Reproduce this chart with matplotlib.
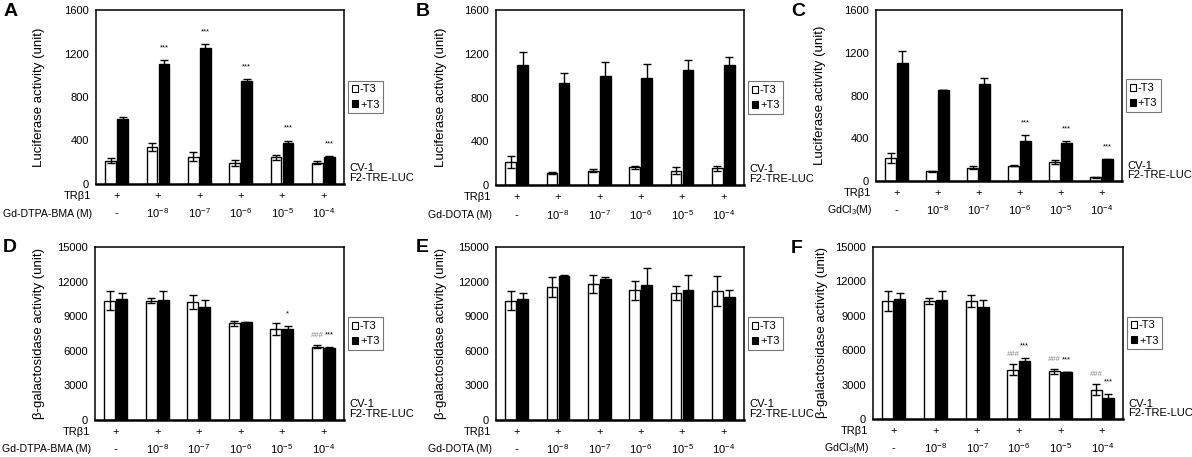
import numpy as np
import matplotlib.pyplot as plt
from matplotlib.patches import Patch

plt.rcParams["font.family"] = ["Liberation Sans", "DejaVu Sans"]
plt.rcParams["mathtext.fontset"] = "custom"
plt.rcParams["mathtext.rm"] = "Liberation Sans"
plt.rcParams["mathtext.it"] = "Liberation Sans:italic"

conc_labels = ["-", "$10^{-8}$", "$10^{-7}$", "$10^{-6}$", "$10^{-5}$", "$10^{-4}$"]
trb1_labels = ["+"] * 6

# luciferase activity (unit), -T3 / +T3, with errors
a_minus = [215, 338, 252, 194, 246, 197]
a_minus_err = [20, 35, 38, 28, 22, 12]
a_plus = [600, 1101, 1252, 948, 375, 252]
a_plus_err = [18, 43, 34, 21, 25, 5]

b_minus = [207, 110, 131, 162, 131, 152]
b_minus_err = [55, 9, 12, 15, 30, 25]
b_plus = [1097, 933, 994, 975, 1052, 1097]
b_plus_err = [116, 91, 134, 128, 94, 70]

c_minus = [219, 91, 125, 144, 178, 34]
c_minus_err = [47, 3, 12, 5, 22, 3]
c_plus = [1100, 850, 912, 375, 356, 203]
c_plus_err = [119, 2, 56, 53, 19, 6]

# beta-galactosidase activity (unit)
d_minus = [10350, 10350, 10240, 8370, 7850, 6350]
d_minus_err = [810, 230, 630, 200, 520, 110]
d_plus = [10530, 10440, 9840, 8480, 7850, 6260]
d_plus_err = [520, 720, 600, 50, 290, 30]

e_minus = [10350, 11540, 11830, 11250, 11020, 11160]
e_minus_err = [810, 860, 780, 840, 580, 1300]
e_plus = [10530, 12520, 12230, 11680, 11250, 10650]
e_plus_err = [490, 30, 140, 1500, 1300, 600]

f_minus = [10320, 10320, 10260, 4300, 4160, 2560]
f_minus_err = [870, 260, 520, 500, 230, 490]
f_plus = [10490, 10410, 9770, 5090, 4100, 1830]
f_plus_err = [490, 730, 640, 230, 30, 350]

# significance marks: (group, bar 0=-T3 / 1=+T3, text)
a_marks = [(1, 1, "***"), (2, 1, "***"), (3, 1, "***"), (4, 1, "***"), (5, 1, "***")]
b_marks = []
c_marks = [(3, 1, "***"), (4, 1, "***"), (5, 1, "***")]
d_marks = [(4, 1, "*"), (5, 0, "###"), (5, 1, "***")]
e_marks = []
f_marks = [(3, 0, "###"), (3, 1, "***"), (4, 0, "###"), (4, 1, "***"),
           (5, 0, "###"), (5, 1, "***")]

W, H = 1192, 457
fig = plt.figure(figsize=(W / 100, H / 100), dpi=100)


def px_axes(l, t, r, b):
    return fig.add_axes([l / W, 1 - b / H, (r - l) / W, (b - t) / H])


def panel(ax, letter, minus, minus_err, plus, plus_err, marks, ymax, yticks,
          ylabel, drug, letter_x, label_x):
    x = np.arange(len(minus))
    bw = 0.26
    off = 0.145
    ekw = dict(ecolor="black", elinewidth=1.0, capsize=3, capthick=1.0)
    ax.bar(x - off, minus, bw, color="white", edgecolor="black", linewidth=1.0,
           yerr=minus_err, error_kw=ekw, zorder=2)
    ax.bar(x + off, plus, bw, color="black", edgecolor="black", linewidth=1.0,
           yerr=plus_err, error_kw=ekw, zorder=2)
    ax.set_xlim(-0.5, 5.5)
    ax.set_ylim(0, ymax)
    ax.set_yticks(yticks)
    ax.tick_params(axis="y", length=0, labelsize=8, pad=5)
    ax.set_xticks([])
    for s in ["left", "top", "right"]:
        ax.spines[s].set_linewidth(1.1)
    ax.spines["bottom"].set_linewidth(1.8)
    ax.set_ylabel(ylabel, fontsize=9.5)
    bb = ax.get_position()
    ax.yaxis.set_label_coords((label_x / W - bb.x0) / bb.width, 0.5)

    for g, which, txt in marks:
        vals = plus if which else minus
        errs = plus_err if which else minus_err
        xx = x[g] + (off if which else -off)
        if txt == "###":
            yy = vals[g] + errs[g] + 0.055 * ymax
            col = "#808080"
        else:
            yy = vals[g] + errs[g] + 0.07 * ymax
            col = "black"
        ax.text(xx, yy, txt, ha="center", va="center", fontsize=5.5,
                color=col, style="italic" if txt == "###" else "normal")

    tr = ax.get_xaxis_transform()
    for i in range(len(minus)):
        ax.text(x[i], -0.07, trb1_labels[i], transform=tr, ha="center",
                va="center", fontsize=8)
        ax.text(x[i], -0.17, conc_labels[i], transform=tr, ha="center",
                va="center", fontsize=8)
    ax.text(-0.02, -0.07, "TR\u03b21", transform=ax.transAxes, ha="right",
            va="center", fontsize=8)
    ax.text(-0.015, -0.17, drug, transform=ax.transAxes, ha="right",
            va="center", fontsize=7.6)

    ax.text(1.02, 0.09, "CV-1", transform=ax.transAxes, ha="left",
            va="center", fontsize=8)
    ax.text(1.02, 0.035, "F2-TRE-LUC", transform=ax.transAxes, ha="left",
            va="center", fontsize=8)

    handles = [Patch(facecolor="white", edgecolor="black", linewidth=0.8),
               Patch(facecolor="black", edgecolor="black", linewidth=0.8)]
    leg = ax.legend(handles, ["-T3", "+T3"], loc="center left",
                    bbox_to_anchor=(1.015, 0.5), fontsize=8, frameon=True,
                    fancybox=False, handlelength=0.6, handleheight=0.6,
                    handletextpad=0.15, borderpad=0.35, labelspacing=0.45,
                    borderaxespad=0)
    leg.get_frame().set_edgecolor("#555555")
    leg.get_frame().set_linewidth(0.8)

    fig.text(letter_x / W, bb.y1 - 1 / H, letter, fontsize=14,
             fontweight="bold", ha="left", va="center")


luc = "Luciferase activity (unit)"
gal = "\u03b2-galactosidase activity (unit)"
luc_ticks = [0, 400, 800, 1200, 1600]
gal_ticks = [0, 3000, 6000, 9000, 12000, 15000]

ax = px_axes(96, 10, 344, 184)
panel(ax, "A", a_minus, a_minus_err, a_plus, a_plus_err, a_marks, 1600,
      luc_ticks, luc, "Gd-DTPA-BMA (M)", 4, 45)
ax = px_axes(496, 10, 744, 185)
panel(ax, "B", b_minus, b_minus_err, b_plus, b_plus_err, b_marks, 1600,
      luc_ticks, luc, "Gd-DOTA (M)", 416, 447)
ax = px_axes(876, 10, 1122, 181)
panel(ax, "C", c_minus, c_minus_err, c_plus, c_plus_err, c_marks, 1600,
      luc_ticks, luc, "GdCl$_3$(M)", 791, 826)
ax = px_axes(95, 247, 344, 420)
panel(ax, "D", d_minus, d_minus_err, d_plus, d_plus_err, d_marks, 15000,
      gal_ticks, gal, "Gd-DTPA-BMA (M)", 3, 45)
ax = px_axes(496, 247, 744, 420)
panel(ax, "E", e_minus, e_minus_err, e_plus, e_plus_err, e_marks, 15000,
      gal_ticks, gal, "Gd-DOTA (M)", 416, 447)
ax = px_axes(873, 247, 1123, 419)
panel(ax, "F", f_minus, f_minus_err, f_plus, f_plus_err, f_marks, 15000,
      gal_ticks, gal, "GdCl$_3$(M)", 791, 828)

fig.savefig("out.png", dpi=100)
